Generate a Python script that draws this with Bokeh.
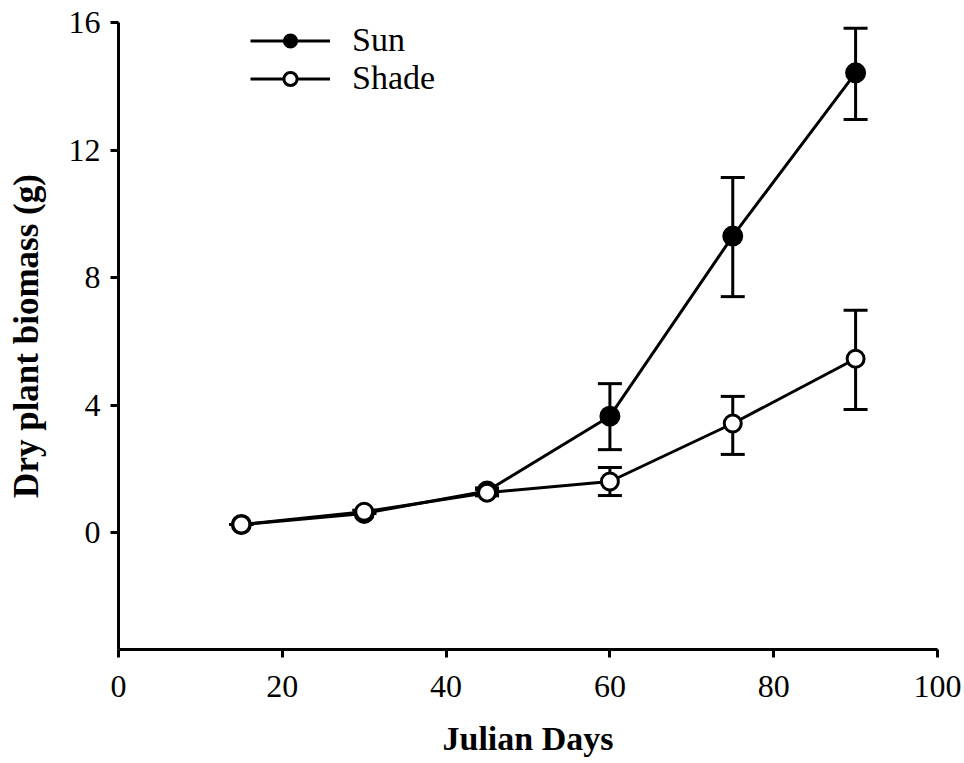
from bokeh.plotting import figure
from bokeh.models import Range1d, Whisker, TeeHead, ColumnDataSource, Legend, LegendItem, FixedTicker
from bokeh.embed import file_html
from bokeh.resources import INLINE

days = [15, 30, 45, 60, 75, 90]
sun_mean = [0.25, 0.6, 1.3, 3.65, 9.3, 14.42]
sun_upper = [0.25, 0.6, 1.4, 4.67, 11.14, 15.82]
sun_lower = [0.25, 0.6, 1.2, 2.6, 7.4, 12.96]
shade_mean = [0.25, 0.65, 1.25, 1.6, 3.42, 5.45]
shade_upper = [0.25, 0.7, 1.35, 2.04, 4.27, 6.97]
shade_lower = [0.25, 0.6, 1.15, 1.16, 2.45, 3.86]

x_ticks = [0, 20, 40, 60, 80, 100]
y_ticks = [0, 4, 8, 12, 16]

FONT = "Liberation Serif"

p = figure(width=964, height=763, output_backend="svg", toolbar_location=None,
           x_range=Range1d(0, 100), y_range=Range1d(-3.67, 16),
           min_border_left=118, min_border_right=27, min_border_top=22, min_border_bottom=114)
p.frame_width = 819
p.frame_height = 627
p.outline_line_color = None
p.xgrid.grid_line_color = None
p.ygrid.grid_line_color = None
p.background_fill_color = "white"
p.border_fill_color = "white"

for ax in (p.xaxis[0], p.yaxis[0]):
    ax.axis_line_width = 3
    ax.axis_line_color = "black"
    ax.major_tick_line_width = 3
    ax.major_tick_line_color = "black"
    ax.major_tick_out = 8
    ax.major_tick_in = 0
    ax.minor_tick_line_color = None
    ax.major_label_text_font = FONT
    ax.major_label_text_font_size = "32px"
    ax.major_label_text_color = "black"
    ax.axis_label_text_font = FONT
    ax.axis_label_text_font_size = "34px"
    ax.axis_label_text_font_style = "bold"
    ax.axis_label_text_color = "black"

p.xaxis.ticker = FixedTicker(ticks=x_ticks)
p.yaxis.ticker = FixedTicker(ticks=y_ticks)
p.xaxis.axis_label = "Julian Days"
p.yaxis.axis_label = "Dry plant biomass (g)"
p.yaxis.axis_label_text_font_size = "35px"
p.xaxis.major_label_standoff = 18
p.yaxis.major_label_standoff = 10
p.xaxis.axis_label_standoff = 20
p.yaxis.axis_label_standoff = 20

src_sun = ColumnDataSource(dict(x=days, y=sun_mean, up=sun_upper, lo=sun_lower))
src_shade = ColumnDataSource(dict(x=days, y=shade_mean, up=shade_upper, lo=shade_lower))

for src in (src_sun, src_shade):
    w = Whisker(source=src, base="x", upper="up", lower="lo", level="underlay",
                line_width=3, line_color="black",
                upper_head=TeeHead(size=24, line_width=3, line_color="black"),
                lower_head=TeeHead(size=24, line_width=3, line_color="black"))
    p.add_layout(w)

l_sun = p.line("x", "y", source=src_sun, line_width=3, line_color="black")
l_shade = p.line("x", "y", source=src_shade, line_width=3, line_color="black")
m_sun = p.scatter("x", "y", source=src_sun, size=19, fill_color="black", line_color="black", line_width=2)
m_shade = p.scatter("x", "y", source=src_shade, size=17, fill_color="white", line_color="black", line_width=3)

legend = Legend(items=[LegendItem(label="Sun", renderers=[l_sun, m_sun]),
                       LegendItem(label="Shade", renderers=[l_shade, m_shade])],
                location=(132, 552), orientation="vertical",
                glyph_width=80, glyph_height=33, label_height=33, spacing=-4, padding=0, margin=0,
                label_standoff=22, label_text_font=FONT, label_text_font_size="34px",
                label_text_color="black", border_line_color=None, background_fill_alpha=0)
p.add_layout(legend)

open("out.html", "w").write(file_html(p, INLINE))
